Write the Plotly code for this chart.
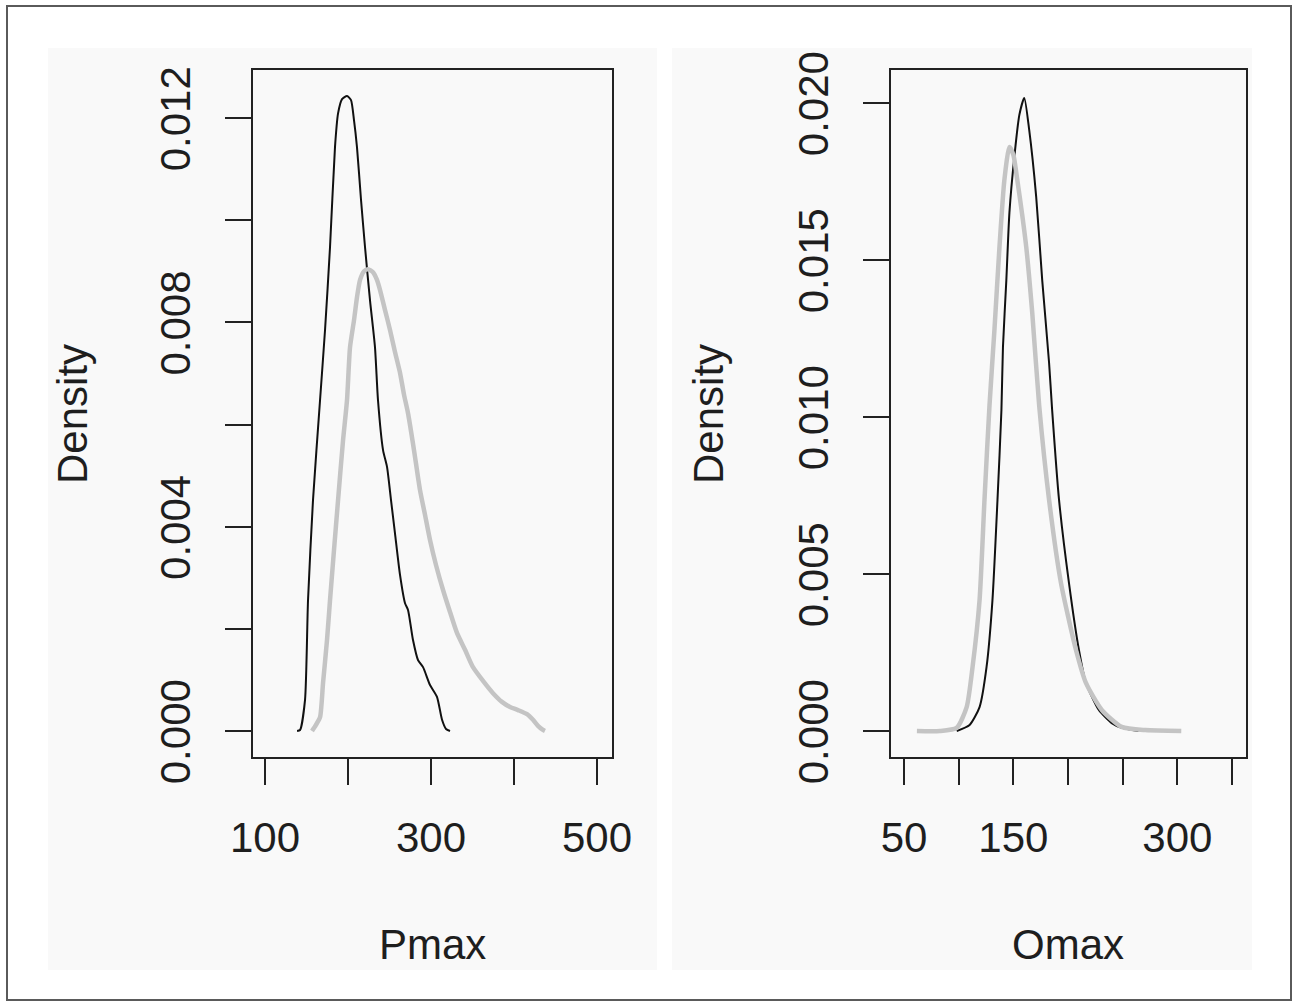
import plotly.graph_objects as go

# ---- Data ----
# Left panel: Pmax densities
pmax_black_x = [138.6, 142.2, 148.2, 151.8, 157.8, 166.3, 172.3, 178.3, 184.3, 188.0, 192.8, 198.8,
                203.6, 207.2, 210.8, 215.7, 220.5, 226.5, 232.5, 236.1, 242.2, 247.0, 251.8, 256.6,
                262.7, 268.7, 272.3, 278.3, 284.3, 290.4, 298.8, 307.2, 313.3, 318.1, 322.9]
pmax_black_y = [0.00000, 0.00002, 0.00061, 0.00256, 0.00452, 0.00648, 0.00785, 0.00947, 0.01143,
                0.01209, 0.01237, 0.01243, 0.01235, 0.01196, 0.01143, 0.01039, 0.00947, 0.00843,
                0.00751, 0.00648, 0.00550, 0.00517, 0.00452, 0.00387, 0.00305, 0.00250, 0.00237,
                0.00178, 0.00139, 0.00125, 0.00090, 0.00067, 0.00022, 0.00004, 0.00000]

pmax_gray_x = [156.6, 161.4, 166.3, 169.9, 174.7, 178.3, 183.1, 188.0, 194.0, 198.8, 202.4, 207.2,
               210.8, 214.5, 219.3, 224.1, 230.1, 234.9, 238.6, 244.6, 250.6, 256.6, 262.7, 267.5,
               272.3, 279.5, 286.7, 292.8, 298.8, 306.0, 314.5, 322.9, 331.3, 341.0, 350.6, 362.7,
               374.7, 385.5, 395.2, 404.8, 415.7, 422.9, 428.9, 434.9, 437.3]
pmax_gray_y = [0.00000, 0.00012, 0.00027, 0.00094, 0.00178, 0.00256, 0.00354, 0.00452, 0.00569,
               0.00648, 0.00751, 0.00804, 0.00849, 0.00883, 0.00900, 0.00904, 0.00898, 0.00883,
               0.00863, 0.00824, 0.00785, 0.00742, 0.00701, 0.00658, 0.00622, 0.00550, 0.00472,
               0.00423, 0.00374, 0.00325, 0.00276, 0.00233, 0.00192, 0.00159, 0.00125, 0.00098,
               0.00074, 0.00057, 0.00047, 0.00041, 0.00033, 0.00022, 0.00010, 0.00002, 0.00000]

# Right panel: Omax densities
omax_black_x = [98.2, 110.0, 119.1, 125.5, 130.9, 135.5, 139.1, 140.5, 143.6, 146.4, 150.9, 155.5,
                160.0, 164.5, 170.9, 176.4, 182.7, 185.5, 191.8, 200.9, 210.0, 216.4, 228.2, 240.0,
                249.1, 264.5]
omax_black_y = [0.00000, 0.00019, 0.00076, 0.00204, 0.00417, 0.00736, 0.01022, 0.01223, 0.01436,
                0.01650, 0.01828, 0.01962, 0.02016, 0.01914, 0.01701, 0.01436, 0.01172, 0.01022,
                0.00736, 0.00471, 0.00258, 0.00153, 0.00067, 0.00025, 0.00010, 0.00000]

omax_gray_x = [61.8, 82.7, 98.2, 107.3, 112.7, 119.1, 123.6, 128.2, 132.7, 137.3, 141.8, 146.4,
               150.0, 153.6, 161.8, 167.3, 173.6, 182.7, 193.6, 207.3, 216.4, 230.9, 249.1, 270.9, 303.6]
omax_gray_y = [0.00000, 0.00000, 0.00010, 0.00076, 0.00204, 0.00417, 0.00736, 0.01038, 0.01277,
               0.01541, 0.01755, 0.01860, 0.01835, 0.01755, 0.01541, 0.01331, 0.01038, 0.00736,
               0.00471, 0.00258, 0.00153, 0.00067, 0.00013, 0.00003, 0.00000]

# Tick labels
p_xticks = [100, 200, 300, 400, 500]
p_xlabels = ["100", "", "300", "", "500"]
p_yticks = [0.000, 0.002, 0.004, 0.006, 0.008, 0.010, 0.012]
p_ylabels = ["0.000", "", "0.004", "", "0.008", "", "0.012"]
o_xticks = [50, 100, 150, 200, 250, 300, 350]
o_xlabels = ["50", "", "150", "", "", "300", ""]
o_yticks = [0.000, 0.005, 0.010, 0.015, 0.020]
o_ylabels = ["0.000", "0.005", "0.010", "0.015", "0.020"]

W, H = 1302, 1004
FONT = "Liberation Sans, Arial, Helvetica, sans-serif"
TXT = "#1e1e1e"

def fx(px):
    return px / W

def fy(py):
    return 1 - py / H

fig = go.Figure()
fig.add_trace(go.Scatter(x=pmax_black_x, y=pmax_black_y, mode="lines",
                         line=dict(color="#111111", width=2, shape="spline", smoothing=0.6),
                         xaxis="x", yaxis="y", showlegend=False))
fig.add_trace(go.Scatter(x=pmax_gray_x, y=pmax_gray_y, mode="lines",
                         line=dict(color="#c4c4c4", width=4.5, shape="spline", smoothing=0.6),
                         xaxis="x", yaxis="y", showlegend=False))
fig.add_trace(go.Scatter(x=omax_black_x, y=omax_black_y, mode="lines",
                         line=dict(color="#111111", width=2, shape="spline", smoothing=0.6),
                         xaxis="x2", yaxis="y2", showlegend=False))
fig.add_trace(go.Scatter(x=omax_gray_x, y=omax_gray_y, mode="lines",
                         line=dict(color="#c4c4c4", width=4.5, shape="spline", smoothing=0.6),
                         xaxis="x2", yaxis="y2", showlegend=False))

common_ax = dict(showgrid=False, zeroline=False, showline=True, mirror=True, linecolor="#222222",
                 linewidth=2, ticks="outside", ticklen=26, tickwidth=2, tickcolor="#222222",
                 tickfont=dict(family=FONT, size=42, color=TXT), fixedrange=True,
                 automargin=False)

ydom = [fy(757), fy(70)]
fig.update_layout(
    width=W, height=H, autosize=False,
    margin=dict(l=0, r=0, t=0, b=0, pad=0, autoexpand=False),
    paper_bgcolor="white",
    plot_bgcolor="rgba(0,0,0,0)",
    showlegend=False,
    xaxis=dict(domain=[fx(253), fx(612)], range=[85.5, 518.1], tickmode="array",
               tickvals=p_xticks, ticktext=p_xlabels, anchor="y", ticklabelstandoff=17, **common_ax),
    yaxis=dict(domain=ydom, range=[-0.000509, 0.01294], tickmode="array",
               tickvals=p_yticks, ticktext=p_ylabels, tickangle=-90, anchor="x",
               ticklabelstandoff=18, ticklabelshift=7, **common_ax),
    xaxis2=dict(domain=[fx(891), fx(1246)], range=[38.1, 362.8], tickmode="array",
                tickvals=o_xticks, ticktext=o_xlabels, anchor="y2", ticklabelstandoff=17, **common_ax),
    yaxis2=dict(domain=ydom, range=[-0.000828, 0.02105], tickmode="array",
                tickvals=o_yticks, ticktext=o_ylabels, tickangle=-90, anchor="x2",
                ticklabelstandoff=18, ticklabelshift=7, **common_ax),
    shapes=[
        dict(type="rect", xref="paper", yref="paper", x0=fx(48), x1=fx(657), y0=fy(970), y1=fy(48),
             fillcolor="#f9f9f9", line=dict(width=0), layer="below"),
        dict(type="rect", xref="paper", yref="paper", x0=fx(672), x1=fx(1252), y0=fy(970), y1=fy(48),
             fillcolor="#f9f9f9", line=dict(width=0), layer="below"),
        dict(type="rect", xref="paper", yref="paper", x0=fx(7), x1=fx(1291), y0=fy(1000), y1=fy(6),
             fillcolor="rgba(0,0,0,0)", line=dict(color="#5a5a5a", width=2), layer="above"),
    ],
    annotations=[
        dict(text="Density", xref="paper", yref="paper", x=fx(72), y=fy(414), showarrow=False,
             textangle=-90, font=dict(family=FONT, size=42, color=TXT), xanchor="center", yanchor="middle"),
        dict(text="Density", xref="paper", yref="paper", x=fx(708), y=fy(414), showarrow=False,
             textangle=-90, font=dict(family=FONT, size=42, color=TXT), xanchor="center", yanchor="middle"),
        dict(text="Pmax", xref="paper", yref="paper", x=fx(432), y=fy(944), showarrow=False,
             font=dict(family=FONT, size=42, color=TXT), xanchor="center", yanchor="middle"),
        dict(text="Omax", xref="paper", yref="paper", x=fx(1068), y=fy(944), showarrow=False,
             font=dict(family=FONT, size=42, color=TXT), xanchor="center", yanchor="middle"),
    ],
)

fig.write_html("out.html")
